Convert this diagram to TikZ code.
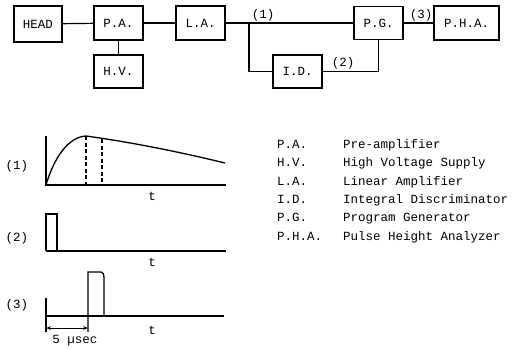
\documentclass[tikz,border=0pt]{standalone}
\usepackage{fontspec}
\setmainfont{Liberation Mono}
\usetikzlibrary{arrows.meta}

\begin{document}
\begin{tikzpicture}[x=1pt,y=-1pt,
  font=\fontsize{12.5}{14}\selectfont,
  unit/.style={draw, line width=1.3pt, minimum width=49pt, minimum height=34pt, inner sep=0pt},
  wire/.style={line width=1.2pt},
  sig/.style={line width=1.3pt},
  txt/.style={inner sep=0pt, text height=1.5ex, text depth=0.25ex}]

\useasboundingbox (0,0) rectangle (524,348);

% Define dimensions
\def\axisx{46}
\def\axisend{226}

% Block diagram
\node[unit, minimum width=48pt, minimum height=36pt] (head) at (38,24) {HEAD};
\node[unit] (pa) at (118.5,23) {P.A.};
\node[unit, minimum height=33pt] (hv) at (118.5,71.5) {H.V.};
\node[unit] (la) at (200.5,23) {L.A.};
\node[unit, minimum height=33pt] (pg) at (378.5,23) {P.G.};
\node[unit, minimum width=65pt] (pha) at (466.5,23) {P.H.A.};
\node[unit, minimum height=33pt] (id) at (297.5,71.5) {I.D.};
\coordinate (branch) at (249,23);

\draw[wire] (head) -- (pa);
\draw[wire] (pa) -- (hv);
\draw[wire] (pa) -- (la);
\draw[wire] (la) -- (pg);
\draw[wire] (branch) |- (id);
\draw[wire] (id) -| (pg);
\draw[wire] (pg) -- (pha);

% Signal labels on the wires
\node[txt] (s1) at (263,15) {(1)};
\node[txt] (s2) at (343,63) {(2)};
\node[txt] (s3) at (421,15) {(3)};

% Signal (1)
\node[txt] (l1) at (17,166) {(1)};
\draw[sig] (\axisx,136) -- (\axisx,185) -- (\axisend,185);
\draw[sig] (\axisx,185) .. controls (54,158) and (68,137) .. (86,136)
  .. controls (130,142) and (180,152) .. (225,163);
\draw[sig, dash pattern=on 4pt off 2.5pt] (86,136) -- (86,185);
\draw[sig, dash pattern=on 4pt off 2.5pt] (102,139) -- (102,185);
\node[txt] (t1) at (152,197) {t};

% Signal (2)
\node[txt] (l2) at (17,238) {(2)};
\draw[sig] (\axisx,251) -- (\axisx,214) -- (57,214) -- (57,251);
\draw[sig] (\axisx,251) -- (\axisend,251);
\node[txt] (t2) at (152,263) {t};

% Signal (3)
\node[txt] (l3) at (17,305) {(3)};
\draw[sig] (\axisx,298) -- (\axisx,332);
\draw[sig] (\axisx,316) -- (224,316);
\draw[sig] (88,332) -- (88,272) -- (101,272) to[out=0,in=90] (104,277) -- (104,316);
\node[txt] (t3) at (152,331) {t};
\draw[sig, line width=1pt, {Stealth[length=5pt]}-{Stealth[length=5pt]}] (\axisx,328) -- (88,328);
\node[txt] (dt) at (75,340) {5 µsec};

% Legend
\foreach \abbr/\full [count=\i] in {P.A./Pre-amplifier, H.V./High Voltage Supply,
    L.A./Linear Amplifier, I.D./Integral Discriminator,
    P.G./Program Generator, P.H.A./Pulse Height Analyzer} {
  \node[txt, anchor=west] (key\i) at (277,126.5+18.4*\i) {\abbr};
  \node[txt, anchor=west] (desc\i) at (343,126.5+18.4*\i) {\full};
}
\end{tikzpicture}
\end{document}
